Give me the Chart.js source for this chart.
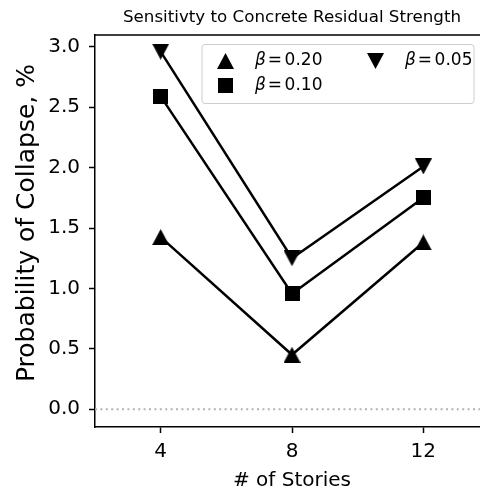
<!DOCTYPE html>
<html><head><meta charset="utf-8">
<script src="https://cdn.jsdelivr.net/npm/chart.js@4.4.1/dist/chart.umd.min.js"></script>
<style>
html,body{margin:0;padding:0;overflow:hidden;background:#fff;width:480px;height:493px}
#wrap{width:500px;height:493px}
</style></head>
<body><div id="wrap"><canvas id="c" width="500" height="493"></canvas></div>
<script>
// ---- data ----
const stories = [4, 8, 12];
const beta020 = [1.425, 0.45, 1.38];
const beta010 = [2.59, 0.955, 1.75];
const beta005 = [2.96, 1.25, 2.01];
const seriesLabels = ['β = 0.20', 'β = 0.10', 'β = 0.05'];
const xTickValues = [4, 8, 12];
const yTickValues = [0, 0.5, 1.0, 1.5, 2.0, 2.5, 3.0];
const xLimits = [2, 14];
const yLimits = [-0.148, 3.098];
const referenceLevel = 0;

const FONT = '"DejaVu Sans", sans-serif';

function marker(kind) {
  const w = kind === 'square' ? 15 : 17, h = kind === 'square' ? 15 : 16;
  const c = document.createElement('canvas'); c.width = w; c.height = h;
  const g = c.getContext('2d'); g.fillStyle = '#000'; g.beginPath();
  if (kind === 'up') { g.moveTo(w/2, 0); g.lineTo(w, h); g.lineTo(0, h); }
  else if (kind === 'down') { g.moveTo(0, 0); g.lineTo(w, 0); g.lineTo(w/2, h); }
  else { g.rect(0, 0, w, h); }
  g.closePath(); g.fill();
  return c;
}
const markers = [marker('up'), marker('square'), marker('down')];
const series = [beta020, beta010, beta005];

const datasets = series.map((vals, i) => ({
  label: seriesLabels[i],
  inLegend: true,
  data: stories.map((s, j) => ({x: s, y: vals[j]})),
  borderColor: '#000', backgroundColor: '#000', borderWidth: 2.5,
  pointStyle: markers[i], pointRadius: 8, pointHoverRadius: 8,
  tension: 0, fill: false
}));
datasets.push({
  label: 'zero', inLegend: false,
  data: xLimits.map(x => ({x: x, y: referenceLevel})),
  borderColor: '#b3b3b3', borderDash: [2, 3.4], borderWidth: 2,
  pointRadius: 0, pointHoverRadius: 0, fill: false
});

const framePlugin = {
  id: 'frame',
  afterDatasetsDraw(chart) {
    const {ctx, chartArea: a} = chart;
    ctx.save(); ctx.strokeStyle = '#000'; ctx.lineWidth = 1.5;
    ctx.beginPath(); ctx.moveTo(a.left, a.top); ctx.lineTo(a.right, a.top); ctx.lineTo(a.right, a.bottom);
    ctx.stroke(); ctx.restore();
  }
};

const legendPlugin = {
  id: 'betaLegend',
  afterDraw(chart) {
    const {ctx, chartArea: a} = chart;
    const bx = a.right - 287, by = a.top + 9.5, bw = 272, bh = 59, r = 3;
    ctx.save();
    ctx.beginPath();
    ctx.moveTo(bx + r, by); ctx.lineTo(bx + bw - r, by); ctx.arcTo(bx + bw, by, bx + bw, by + r, r);
    ctx.lineTo(bx + bw, by + bh - r); ctx.arcTo(bx + bw, by + bh, bx + bw - r, by + bh, r);
    ctx.lineTo(bx + r, by + bh); ctx.arcTo(bx, by + bh, bx, by + bh - r, r);
    ctx.lineTo(bx, by + r); ctx.arcTo(bx, by, bx + r, by, r); ctx.closePath();
    ctx.fillStyle = 'rgba(255,255,255,0.8)'; ctx.fill();
    ctx.strokeStyle = '#cccccc'; ctx.lineWidth = 1; ctx.stroke();
    const items = chart.data.datasets.filter(d => d.inLegend);
    ctx.fillStyle = '#000'; ctx.textBaseline = 'middle'; ctx.textAlign = 'left';
    items.forEach((d, i) => {
      const col = Math.floor(i / 2), row = i % 2;
      const mx = bx + 23 + col * 150, my = by + 16 + row * 25;
      const img = d.pointStyle;
      ctx.drawImage(img, Math.round(mx - img.width / 2), Math.round(my - img.height / 2));
      let tx = bx + 53 + col * 150;
      const sym = d.label.charAt(0);
      const rest = d.label.slice(1).trim().split(' ');
      ctx.font = 'italic 17px ' + FONT;
      ctx.fillText(sym, tx, my);
      tx += ctx.measureText(sym).width + 2;
      ctx.font = '17px ' + FONT;
      ctx.fillText(rest[0], tx, my);
      tx += ctx.measureText(rest[0]).width + 2.5;
      ctx.fillText(rest[1], tx, my);
    });
    ctx.restore();
  }
};

new Chart(document.getElementById('c'), {
  type: 'line',
  data: {datasets: datasets},
  options: {
    animation: false, responsive: false, devicePixelRatio: 1,
    layout: {padding: {left: 0, right: 11, top: 0, bottom: 0}},
    plugins: {
      legend: {display: false}, tooltip: {enabled: false},
      title: {display: true, text: 'Sensitivty to Concrete Residual Strength', fullSize: false,
        color: '#000', font: {family: FONT, size: 16.7, weight: 'normal', lineHeight: 1.2},
        padding: {top: 8, bottom: 7}}
    },
    scales: {
      x: {
        type: 'linear', min: xLimits[0], max: xLimits[1],
        afterBuildTicks: s => { s.ticks = xTickValues.map(v => ({value: v})); },
        afterFit: s => { s.height = 66; },
        ticks: {color: '#000', font: {family: FONT, size: 20}, padding: 7, maxRotation: 0, autoSkip: false,
          callback: v => String(v)},
        grid: {drawOnChartArea: false, drawTicks: true, tickLength: 6, tickColor: '#000', tickWidth: 1.5},
        border: {display: true, color: '#000', width: 1.5},
        title: {display: true, text: '# of Stories', color: '#000', font: {family: FONT, size: 20}, padding: {top: 0, bottom: 0}}
      },
      y: {
        type: 'linear', min: yLimits[0], max: yLimits[1],
        afterBuildTicks: s => { s.ticks = yTickValues.map(v => ({value: v})); },
        afterFit: s => { s.width = 95; },
        ticks: {color: '#000', font: {family: FONT, size: 20}, padding: 9, autoSkip: false,
          callback: v => Number(v).toFixed(1)},
        grid: {drawOnChartArea: false, drawTicks: true, tickLength: 6, tickColor: '#000', tickWidth: 1.5},
        border: {display: true, color: '#000', width: 1.5},
        title: {display: true, text: '  Probability of Collapse, %', color: '#000', font: {family: FONT, size: 25}, padding: {top: 12, bottom: 0}}
      }
    }
  },
  plugins: [framePlugin, legendPlugin]
});
</script>
</body></html>
